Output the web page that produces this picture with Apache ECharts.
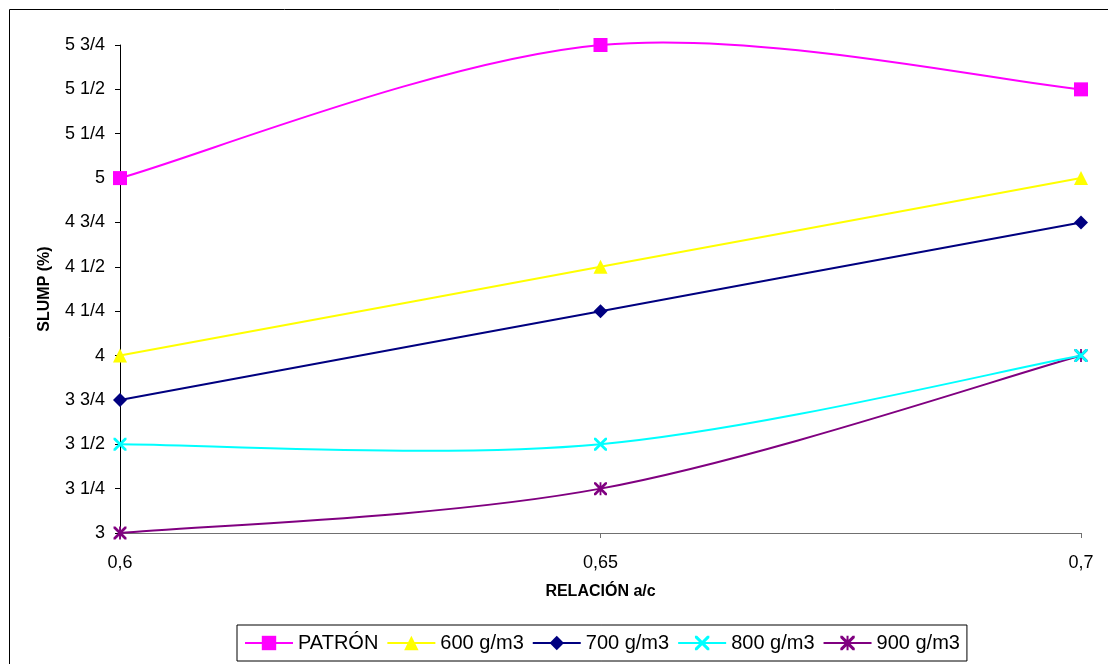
<!DOCTYPE html>
<html>
<head>
<meta charset="utf-8">
<script src="https://cdn.jsdelivr.net/npm/echarts@6/dist/echarts.min.js"></script>
<style>
  html, body { margin: 0; padding: 0; background: #fff; }
  #chart { width: 1108px; height: 664px; }
</style>
</head>
<body>
<div id="chart"></div>
<script>
// Water/cement ratio on the x axis
const relacion = [0.6, 0.65, 0.7];

// Slump values per mix
const seriesNames = ['PATRÓN', '600 g/m3', '700 g/m3', '800 g/m3', '900 g/m3'];
const patron = [5, 5.75, 5.5];
const g600 = [4, 4.5, 5];
const g700 = [3.75, 4.25, 4.75];
const g800 = [3.5, 3.5, 4];
const g900 = [3, 3.25, 4];

const colors = ['#FF00FF', '#FFFF00', '#000080', '#00FFFF', '#800080'];

// Marker shapes: square, triangle, diamond, cross and asterisk
const crossPath = 'path://M0,0 L1.5,0 L5,3.5 L8.5,0 L10,0 L10,1.5 L6.5,5 L10,8.5 L10,10 L8.5,10 L5,6.5 L1.5,10 L0,10 L0,8.5 L3.5,5 L0,1.5 Z';
const starPath = crossPath + ' M4.3,0 L5.7,0 L5.7,10 L4.3,10 Z';
const symbols = ['rect', 'triangle', 'diamond', crossPath, starPath];
const symbolSizes = [14, 14, 14, 13, 13];

const values = [patron, g600, g700, g800, g900];

function fraction(v) {
  const whole = Math.floor(v + 1e-9);
  const q = Math.round((v - whole) * 4);
  const parts = ['', ' 1/4', ' 1/2', ' 3/4'];
  return whole + parts[q];
}

// Smoothed curve through the points (cardinal spline, tension 1/6),
// positioned with the grid's own coordinate conversion.
function curveRenderer(idx) {
  return function (params, api) {
    if (params.dataIndex !== 0) return null;
    const pts = relacion.map((x, j) => api.coord([x, values[idx][j]]));
    const n = pts.length;
    const children = [];
    for (let k = 0; k < n - 1; k++) {
      const p0 = pts[Math.max(k - 1, 0)];
      const p1 = pts[k];
      const p2 = pts[k + 1];
      const p3 = pts[Math.min(k + 2, n - 1)];
      children.push({
        type: 'bezierCurve',
        shape: {
          x1: p1[0], y1: p1[1],
          cpx1: p1[0] + (p2[0] - p0[0]) / 6, cpy1: p1[1] + (p2[1] - p0[1]) / 6,
          cpx2: p2[0] - (p3[0] - p1[0]) / 6, cpy2: p2[1] - (p3[1] - p1[1]) / 6,
          x2: p2[0], y2: p2[1]
        },
        style: { stroke: colors[idx], lineWidth: 2, fill: null }
      });
    }
    return { type: 'group', children: children };
  };
}

const chart = echarts.init(document.getElementById('chart'));

const markerSeries = seriesNames.map((name, i) => ({
  name: name,
  type: 'line',
  data: relacion.map((x, j) => [x, values[i][j]]),
  symbol: symbols[i],
  symbolSize: symbolSizes[i],
  showAllSymbol: true,
  lineStyle: { color: colors[i], width: 2, opacity: 0 },
  itemStyle: { color: colors[i], borderWidth: 0 },
  z: 20 - i
}));

const curveSeries = seriesNames.map((name, i) => ({
  name: name + ' ',
  type: 'custom',
  coordinateSystem: 'cartesian2d',
  data: [[relacion[0], values[i][0]]],
  renderItem: curveRenderer(i),
  silent: true,
  clip: false,
  z: 10 - i
}));

chart.setOption({
  animation: false,
  backgroundColor: '#fff',
  textStyle: { fontFamily: 'Liberation Sans, Arial, sans-serif' },
  graphic: [{
    type: 'rect',
    shape: { x: 9.5, y: 9.5, width: 1200, height: 700 },
    style: { fill: 'none', stroke: '#000', lineWidth: 1 },
    silent: true
  }],
  grid: { left: 120, top: 45, right: 27, bottom: 131, containLabel: false },
  legend: {
    left: 237,
    top: 625,
    orient: 'horizontal',
    itemWidth: 48,
    itemHeight: 18,
    itemGap: 8,
    padding: [8, 7],
    borderColor: '#000',
    borderWidth: 1,
    lineStyle: { width: 2, opacity: 1 },
    textStyle: { fontSize: 20, color: '#000', fontFamily: 'Liberation Sans, Arial, sans-serif' },
    data: seriesNames
  },
  xAxis: {
    type: 'value',
    min: 0.6,
    max: 0.7,
    interval: 0.05,
    name: 'RELACIÓN a/c',
    nameLocation: 'middle',
    nameGap: 51,
    nameTextStyle: { fontSize: 16, fontWeight: 'bold', color: '#000' },
    axisLine: { lineStyle: { color: '#707070', width: 1 } },
    axisTick: { show: true, length: 5, inside: false, lineStyle: { color: '#707070' } },
    axisLabel: {
      margin: 21,
      fontSize: 18,
      color: '#000',
      formatter: v => String(+v.toFixed(2)).replace('.', ',')
    },
    splitLine: { show: false }
  },
  yAxis: {
    type: 'value',
    min: 3,
    max: 5.75,
    interval: 0.25,
    name: 'SLUMP (%)',
    nameLocation: 'middle',
    nameGap: 67,
    nameTextStyle: { fontSize: 16, fontWeight: 'bold', color: '#000' },
    axisLine: { show: true, lineStyle: { color: '#000', width: 1 } },
    axisTick: { show: true, length: 5, lineStyle: { color: '#000' } },
    axisLabel: { margin: 15, fontSize: 18, color: '#000', formatter: fraction },
    splitLine: { show: false }
  },
  series: curveSeries.concat(markerSeries)
});
</script>
</body>
</html>
